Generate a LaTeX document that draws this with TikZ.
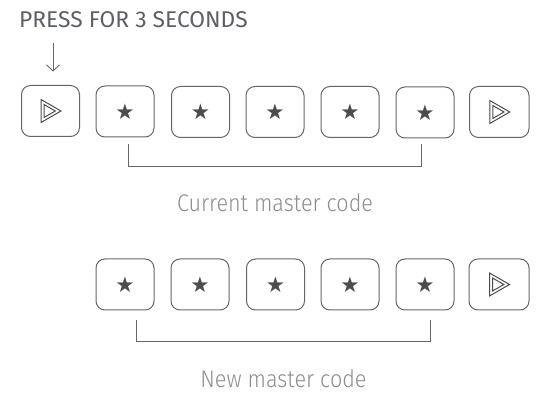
\documentclass[tikz,border=0pt]{standalone}
\usepackage{fontspec}
\setmainfont{Fira Sans}[UprightFont={* Light},FakeStretch=0.9]
\newfontfamily\headfont{Fira Sans}
\newfontfamily\symfont{DejaVu Sans}
\usetikzlibrary{arrows.meta}
\definecolor{linec}{HTML}{666666}
\definecolor{headc}{HTML}{5C6066}
\definecolor{subc}{HTML}{8A8E8C}
\definecolor{starc}{HTML}{4A4D4F}
\tikzset{
  keybox/.style={draw=linec,line width=1pt,rounded corners=9pt,minimum width=58pt,minimum height=51pt,inner sep=0pt},
  starkey/.style={keybox,font=\symfont\fontsize{21.5}{21.5}\selectfont,text=starc},
  bracket/.style={draw=linec,line width=1pt},
  playline/.style={draw=starc,line width=1pt,line join=miter},
  heading/.style={anchor=base west,inner sep=0pt,text=headc,font=\headfont\fontsize{22.8}{22.8}\selectfont},
  caption/.style={anchor=base,inner sep=0pt,text=subc,font=\fontsize{24}{24}\selectfont},
  pics/play/.style={code={
    \draw[playline] (-9.5,-11.5) -- (-9.5,11.5) -- (10.5,0) -- cycle;
    \draw[playline] (-6.5,-6.5) -- (-6.5,6.5) -- (4.8,0) -- cycle;
  }}
}
\begin{document}
\begin{tikzpicture}[x=1pt,y=-1pt]
\useasboundingbox[fill=white] (0,0) rectangle (552,406);
\node[heading] (head) at (19,28) {PRESS FOR 3 SECONDS};
\node[keybox] (a0) at (50.5,111) {};
\node[starkey] (a1) at (125,111.5) {★};
\node[starkey] (a2) at (200.5,112) {★};
\node[starkey] (a3) at (275,112) {★};
\node[starkey] (a4) at (350,112) {★};
\node[starkey] (a5) at (425,112.5) {★};
\node[keybox,minimum width=59.5pt] (a6) at (499.25,112) {};
\pic at (a0.center) {play};
\pic at (a6.center) {play};
\coordinate (arrowtop) at (53,43);
\coordinate (arrowend) at (53,71.5);
\draw[draw=linec,line width=0.9pt,-{Straight Barb[length=6pt,width=13pt]}] (arrowtop) -- (arrowend);
\coordinate (b1l) at (128,144);
\coordinate (b1r) at (421.5,144);
\draw[bracket] (b1l) |- (b1r |- 0,167) -- (b1r);
\node[caption] (cur) at (275,212) {Current master code};
\node[starkey] (c1) at (125,284.5) {★};
\node[starkey] (c2) at (200,284.5) {★};
\node[starkey] (c3) at (275.5,284.5) {★};
\node[starkey] (c4) at (350,284.5) {★};
\node[starkey] (c5) at (425,284.5) {★};
\node[keybox,minimum width=60pt] (c6) at (499,284.5) {};
\pic at (c6.center) {play};
\coordinate (b2l) at (136,320);
\coordinate (b2r) at (430,320);
\draw[bracket] (b2l) |- (b2r |- 0,342) -- (b2r);
\node[caption] (new) at (283.5,388) {New master code};
\end{tikzpicture}
\end{document}
